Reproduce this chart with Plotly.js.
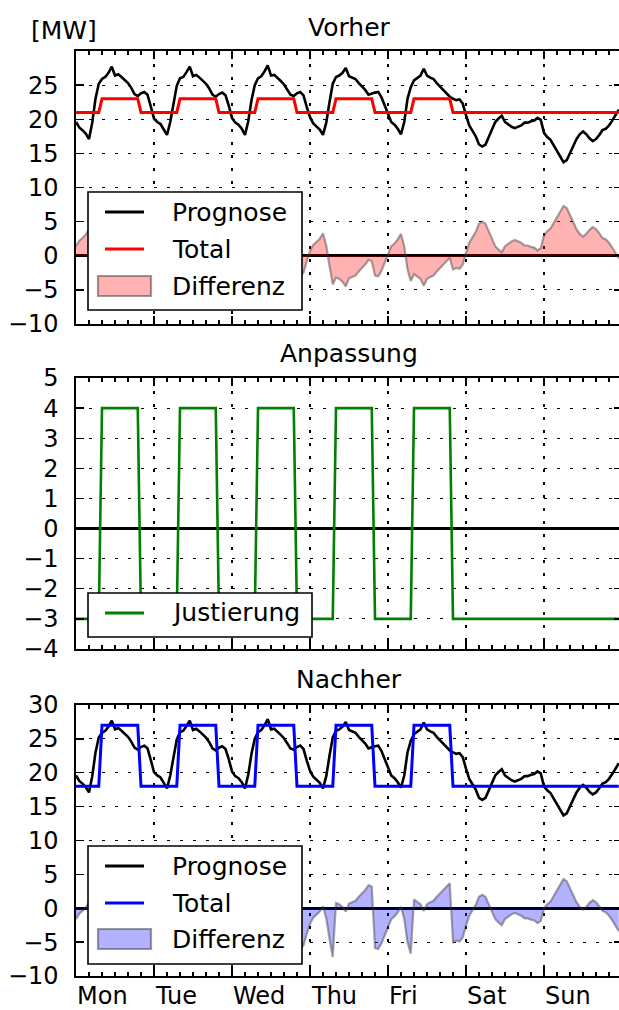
<!DOCTYPE html>
<html><head><meta charset="utf-8">
<script src="https://cdn.plot.ly/plotly-3.0.1.min.js"></script>
<style>html,body{margin:0;padding:0;overflow:hidden;background:#fff}</style>
</head><body><div id="chart"></div>
<script>
// ---------- data ----------
const dayLabels = ['Mon', 'Tue', 'Wed', 'Thu', 'Fri', 'Sat', 'Sun'];

// hourly forecast [MW], Mon 00:00 .. Sun 23:00
const prognose = [
  19.6, 18.8, 18.4, 17.9, 17.1, 19.5, 23.0, 25.2, 25.9, 26.2, 26.8, 27.7, 26.4, 26.6, 26.2, 25.8, 25.3, 24.6, 23.7, 23.4, 23.8, 24.0, 23.6, 21.9,
  20.1, 19.6, 19.3, 18.5, 17.7, 19.6, 22.6, 24.9, 26.0, 26.2, 26.9, 27.7, 26.3, 26.5, 26.1, 25.7, 25.2, 24.5, 23.6, 23.3, 23.7, 23.9, 23.5, 22.0,
  20.2, 19.5, 19.2, 18.6, 17.7, 19.7, 22.8, 25.0, 26.0, 26.3, 27.0, 27.9, 26.4, 26.5, 26.1, 25.6, 25.1, 24.4, 23.6, 23.4, 23.8, 24.0, 23.5, 21.8,
  20.3, 19.4, 19.0, 18.5, 17.7, 19.5, 22.5, 25.2, 26.2, 26.4, 26.8, 27.5, 26.3, 26.1, 25.9, 25.3, 24.8, 24.3, 23.6, 23.8, 23.9, 24.0, 23.2, 22.0,
  20.8, 19.6, 19.2, 18.6, 17.8, 19.6, 23.0, 24.7, 25.7, 26.0, 26.4, 27.4, 26.4, 26.1, 25.9, 25.3, 24.8, 24.3, 23.8, 23.3, 23.0, 22.8, 22.9, 22.3,
  20.6, 19.1, 18.3, 17.5, 16.3, 16.0, 16.3, 17.4, 18.6, 19.6, 20.1, 20.5, 19.6, 19.2, 18.9, 18.7, 18.9, 19.1, 19.5, 19.5, 19.7, 19.8, 20.2, 19.9,
  18.0, 17.4, 17.0, 16.2, 15.2, 14.5, 13.7, 14.0, 15.0, 16.1, 17.1, 17.8, 18.2, 17.8, 17.2, 16.8, 17.1, 17.7, 18.4, 18.6, 19.1, 19.8, 20.7, 21.4
];

// total before adjustment [MW]
const totalVorher = [
  21, 21, 21, 21, 21, 21, 21, 21, 23, 23, 23, 23, 23, 23, 23, 23, 23, 23, 23, 23, 21, 21, 21, 21,
  21, 21, 21, 21, 21, 21, 21, 21, 23, 23, 23, 23, 23, 23, 23, 23, 23, 23, 23, 23, 21, 21, 21, 21,
  21, 21, 21, 21, 21, 21, 21, 21, 23, 23, 23, 23, 23, 23, 23, 23, 23, 23, 23, 23, 21, 21, 21, 21,
  21, 21, 21, 21, 21, 21, 21, 21, 23, 23, 23, 23, 23, 23, 23, 23, 23, 23, 23, 23, 21, 21, 21, 21,
  21, 21, 21, 21, 21, 21, 21, 21, 23, 23, 23, 23, 23, 23, 23, 23, 23, 23, 23, 23, 21, 21, 21, 21,
  21, 21, 21, 21, 21, 21, 21, 21, 21, 21, 21, 21, 21, 21, 21, 21, 21, 21, 21, 21, 21, 21, 21, 21,
  21, 21, 21, 21, 21, 21, 21, 21, 21, 21, 21, 21, 21, 21, 21, 21, 21, 21, 21, 21, 21, 21, 21, 21
];

// adjustment [MW]
const justierung = [
  -3, -3, -3, -3, -3, -3, -3, -3, 4, 4, 4, 4, 4, 4, 4, 4, 4, 4, 4, 4, -3, -3, -3, -3,
  -3, -3, -3, -3, -3, -3, -3, -3, 4, 4, 4, 4, 4, 4, 4, 4, 4, 4, 4, 4, -3, -3, -3, -3,
  -3, -3, -3, -3, -3, -3, -3, -3, 4, 4, 4, 4, 4, 4, 4, 4, 4, 4, 4, 4, -3, -3, -3, -3,
  -3, -3, -3, -3, -3, -3, -3, -3, 4, 4, 4, 4, 4, 4, 4, 4, 4, 4, 4, 4, -3, -3, -3, -3,
  -3, -3, -3, -3, -3, -3, -3, -3, 4, 4, 4, 4, 4, 4, 4, 4, 4, 4, 4, 4, -3, -3, -3, -3,
  -3, -3, -3, -3, -3, -3, -3, -3, -3, -3, -3, -3, -3, -3, -3, -3, -3, -3, -3, -3, -3, -3, -3, -3,
  -3, -3, -3, -3, -3, -3, -3, -3, -3, -3, -3, -3, -3, -3, -3, -3, -3, -3, -3, -3, -3, -3, -3, -3
];

// total after adjustment [MW]
const totalNachher = [
  18, 18, 18, 18, 18, 18, 18, 18, 27, 27, 27, 27, 27, 27, 27, 27, 27, 27, 27, 27, 18, 18, 18, 18,
  18, 18, 18, 18, 18, 18, 18, 18, 27, 27, 27, 27, 27, 27, 27, 27, 27, 27, 27, 27, 18, 18, 18, 18,
  18, 18, 18, 18, 18, 18, 18, 18, 27, 27, 27, 27, 27, 27, 27, 27, 27, 27, 27, 27, 18, 18, 18, 18,
  18, 18, 18, 18, 18, 18, 18, 18, 27, 27, 27, 27, 27, 27, 27, 27, 27, 27, 27, 27, 18, 18, 18, 18,
  18, 18, 18, 18, 18, 18, 18, 18, 27, 27, 27, 27, 27, 27, 27, 27, 27, 27, 27, 27, 18, 18, 18, 18,
  18, 18, 18, 18, 18, 18, 18, 18, 18, 18, 18, 18, 18, 18, 18, 18, 18, 18, 18, 18, 18, 18, 18, 18,
  18, 18, 18, 18, 18, 18, 18, 18, 18, 18, 18, 18, 18, 18, 18, 18, 18, 18, 18, 18, 18, 18, 18, 18
];

const yTicksTop = [-10, -5, 0, 5, 10, 15, 20, 25];
const yTicksMid = [-4, -3, -2, -1, 0, 1, 2, 3, 4, 5];
const yTicksBot = [-10, -5, 0, 5, 10, 15, 20, 25, 30];

// ---------- derived ----------
const hours = prognose.map((_, i) => i);
const diffVorher = totalVorher.map((t, i) => t - prognose[i]);
const diffNachher = totalNachher.map((t, i) => t - prognose[i]);

// ---------- layout helpers (pixel -> paper) ----------
const W = 625, H = 1010, L = 76, T = 51, B = 976;
const PW = W - L - 3, PH = B - T;
const px = v => (v - L) / PW;
const py = v => (B - v) / PH;

const FONT = 'DejaVu Sans, Bitstream Vera Sans, sans-serif';
const TICK = 24, BIG = 25;

function xAxis(anchor) {
  return {
    anchor: anchor, domain: [0, 1], range: [0, 168],
    tickmode: 'linear', tick0: 0, dtick: 24,
    ticks: 'inside', ticklen: 8, tickwidth: 1.3, tickcolor: 'black',
    showline: true, linecolor: 'black', linewidth: 1.6, mirror: 'allticks',
    showgrid: true, gridcolor: 'black', gridwidth: 1.1, griddash: '3px,10px',
    zeroline: false, showticklabels: false, fixedrange: true,
    minor: {tickmode: 'linear', tick0: 0, dtick: 4, ticks: 'inside', ticklen: 4, tickwidth: 1.1, tickcolor: 'black', showgrid: false}
  };
}
function yAxis(anchor, domain, range, vals) {
  return {
    anchor: anchor, domain: domain, range: range,
    tickmode: 'array', tickvals: vals,
    ticks: 'inside', ticklen: 8, tickwidth: 1.3, tickcolor: 'black',
    showline: true, linecolor: 'black', linewidth: 1.6, mirror: 'allticks',
    showgrid: true, gridcolor: 'black', gridwidth: 1.1, griddash: '3px,10px',
    zeroline: true, zerolinecolor: 'black', zerolinewidth: 3,
    tickfont: {family: FONT, size: TICK, color: 'black'},
    ticklabelstandoff: 11, fixedrange: true
  };
}

const traces = [
  {x: hours, y: diffVorher, xaxis: 'x', yaxis: 'y', type: 'scatter', mode: 'lines', name: 'Differenz',
   fill: 'tozeroy', fillcolor: 'rgba(255,0,0,0.3)', line: {color: 'rgba(60,60,60,0.45)', width: 2.2}},
  {x: hours, y: prognose, xaxis: 'x', yaxis: 'y', type: 'scatter', mode: 'lines', name: 'Prognose',
   line: {color: 'black', width: 2.6}},
  {x: hours, y: totalVorher, xaxis: 'x', yaxis: 'y', type: 'scatter', mode: 'lines', name: 'Total',
   line: {color: '#ff0000', width: 3}},
  {x: hours, y: justierung, xaxis: 'x2', yaxis: 'y2', type: 'scatter', mode: 'lines', name: 'Justierung',
   line: {color: '#008000', width: 2.6}},
  {x: hours, y: diffNachher, xaxis: 'x3', yaxis: 'y3', type: 'scatter', mode: 'lines', name: 'Differenz',
   fill: 'tozeroy', fillcolor: 'rgba(0,0,255,0.3)', line: {color: 'rgba(60,60,60,0.45)', width: 2.2}},
  {x: hours, y: prognose, xaxis: 'x3', yaxis: 'y3', type: 'scatter', mode: 'lines', name: 'Prognose',
   line: {color: 'black', width: 2.6}},
  {x: hours, y: totalNachher, xaxis: 'x3', yaxis: 'y3', type: 'scatter', mode: 'lines', name: 'Total',
   line: {color: '#0000ff', width: 3}}
];

const shapes = [];
const annotations = [];
function text(t, x, y, size, anchor) {
  annotations.push({text: t, xref: 'paper', yref: 'paper', x: px(x), y: py(y),
    xanchor: anchor || 'left', yanchor: 'middle', showarrow: false,
    font: {family: FONT, size: size, color: 'black'}});
}
function box(x0, y0, x1, y1) {
  shapes.push({type: 'rect', xref: 'paper', yref: 'paper', layer: 'above',
    x0: px(x0), x1: px(x1), y0: py(y1), y1: py(y0),
    fillcolor: 'white', line: {color: 'black', width: 1.6}});
}
function keyLine(yc, color) {
  shapes.push({type: 'line', xref: 'paper', yref: 'paper', layer: 'above',
    x0: px(105), x1: px(144), y0: py(yc), y1: py(yc), line: {color: color, width: 3.2}});
}
function keySwatch(yc, fill) {
  shapes.push({type: 'rect', xref: 'paper', yref: 'paper', layer: 'above',
    x0: px(98), x1: px(151), y0: py(yc + 10), y1: py(yc - 10),
    fillcolor: fill, line: {color: 'rgba(60,60,60,0.5)', width: 2.2}});
}

// titles
text('[MW]', 29, 30, BIG, 'left');
text('Vorher', 349, 27, BIG, 'center');
text('Anpassung', 349, 353, BIG, 'center');
text('Nachher', 349, 680, BIG, 'center');

// legend: top
box(88, 192, 302, 310);
keyLine(212, 'black'); text('Prognose', 169.5, 212, BIG);
keyLine(249, '#ff0000'); text('Total', 169.5, 249, BIG);
keySwatch(286, 'rgba(255,0,0,0.3)'); text('Differenz', 169.5, 286, BIG);
// legend: middle
box(88, 593, 312, 637);
keyLine(613, '#008000'); text('Justierung', 169.5, 612, BIG);
// legend: bottom
box(88, 846, 302, 964);
keyLine(866, 'black'); text('Prognose', 169.5, 866, BIG);
keyLine(903, '#0000ff'); text('Total', 169.5, 903, BIG);
keySwatch(939, 'rgba(0,0,255,0.3)'); text('Differenz', 169.5, 939, BIG);

// day labels, left-aligned at the day boundaries
dayLabels.forEach((d, i) => {
  annotations.push({text: d, xref: 'x3', yref: 'paper', x: i * 24, y: py(995.5),
    xanchor: 'left', yanchor: 'middle', xshift: 1, showarrow: false,
    borderpad: 0, borderwidth: 0,
    font: {family: FONT, size: TICK, color: 'black'}});
});

const layout = {
  width: W, height: H,
  margin: {l: L, r: W - L - PW, t: T, b: H - B, pad: 0},
  paper_bgcolor: 'white', plot_bgcolor: 'white',
  showlegend: false,
  font: {family: FONT, color: 'black'},
  xaxis: xAxis('y'),
  xaxis2: xAxis('y2'),
  xaxis3: xAxis('y3'),
  yaxis: yAxis('x', [py(324), py(51)], [-10, 30], yTicksTop),
  yaxis2: yAxis('x2', [py(649), py(378)], [-4, 5], yTicksMid),
  yaxis3: yAxis('x3', [py(976), py(705)], [-10, 30], yTicksBot),
  shapes: shapes,
  annotations: annotations
};

Plotly.newPlot('chart', traces, layout, {staticPlot: true, displayModeBar: false});
</script>
</body></html>
